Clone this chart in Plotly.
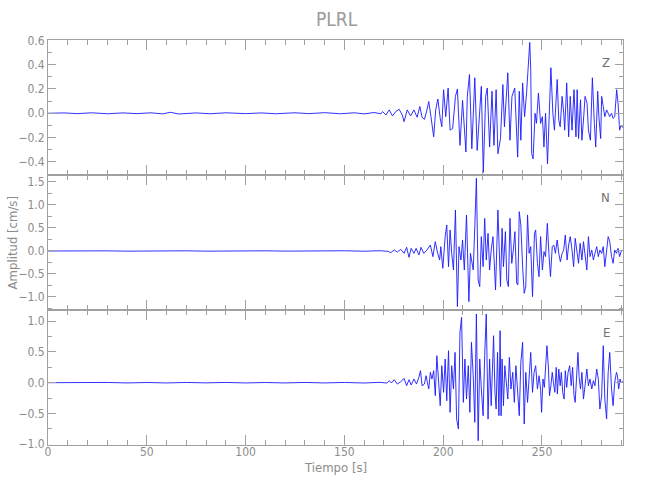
import plotly.graph_objects as go
from plotly.subplots import make_subplots

# ---------------- data ----------------
t_z = [0, 8, 15, 22, 30, 38, 45, 52, 58, 62, 66, 75, 82, 90, 100, 108, 115, 125, 132, 140, 148, 155, 160, 165, 168.5,
       169.3, 171.0, 172.7, 174.3, 176.0, 177.7, 179.3, 180.2, 181.8, 183.5, 185.2, 186.8, 188.2, 189.3, 190.5, 191.8,
       192.7, 193.8, 195.2, 196.2, 197.3, 198.5, 199.3, 200.2, 201.3, 202.5, 203.5, 204.8, 206.2, 207.2, 208.5, 209.8,
       211.5, 212.2, 213.3, 214.5, 216.0, 217.2, 218.2, 219.3, 220.3, 221.5, 222.3, 223.5, 224.7, 225.7, 226.8, 227.7,
       229.0, 230.2, 231.0, 231.8, 232.7, 233.8, 234.8, 236.2, 236.8, 237.7, 238.5, 239.3, 240.2, 241.2, 242.2, 243.0,
       243.8, 244.3, 244.8, 245.5, 246.5, 247.2, 248.2, 249.3, 250.2, 251.0, 251.8, 252.8, 253.8, 254.5, 255.5, 256.3,
       257.7, 258.5, 259.2, 260.2, 261.0, 261.5, 262.5, 263.5, 264.3, 265.2, 266.2, 267.2, 267.8, 268.5, 269.5, 270.2,
       271.0, 271.8, 272.8, 273.5, 274.5, 275.5, 276.5, 277.2, 278.2, 278.8, 279.7, 280.2, 281.0, 281.8, 282.7, 283.5,
       284.3, 285.2, 286.0, 286.8, 287.8, 288.5, 289.3, 290.0, 291.0]
a_z = [0.0, 0.003, -0.003, 0.004, -0.004, 0.003, -0.003, 0.004, -0.005, 0.008, -0.006, 0.003, -0.004, 0.004, -0.003,
       0.003, -0.004, 0.004, -0.003, 0.005, -0.004, 0.004, -0.005, 0.006, -0.004,
       0.014, -0.014, 0.028, -0.022, 0.014, 0.033, -0.014, -0.069, 0.028, -0.022, 0.028, -0.033, 0.056, -0.033, -0.05,
       0.028, 0.097, -0.028, -0.194, 0.028, 0.117, -0.042, -0.111, 0.194, -0.028, 0.208, -0.139, -0.125, 0.139, 0.2,
       -0.264, 0.106, -0.319, 0.139, 0.319, -0.292, 0.292, -0.306, 0.0, 0.222, -0.486, 0.139, 0.208, -0.278, 0.181,
       -0.264, 0.194, -0.333,
       -0.208, 0.236, -0.111, 0.139, 0.333, -0.222, 0.139, 0.208, -0.056, -0.361, 0.181, -0.222, 0.25, -0.028, 0.167,
       0.389, 0.583, 0.361, -0.333, -0.375, 0.0, -0.083, 0.167, -0.083, -0.028, -0.278, 0.0, -0.417, 0.139, 0.375, 0.0,
       -0.139, 0.278, -0.056, -0.111, 0.139, 0.0, -0.139, 0.25, -0.194, 0.139, -0.139, 0.194, -0.194, 0.194, -0.208,
       0.111, -0.222, -0.056, 0.139, 0.083, -0.139, -0.222, 0.292, -0.083, -0.278, 0.181, -0.028, -0.208, 0.139, 0.056,
       -0.028, 0.028, 0.0, -0.028, 0.0, -0.042, -0.028, 0.194, 0.083, -0.139, -0.1, -0.12]

t_n = [0, 10, 20, 30, 40, 50, 60, 70, 80, 90, 100, 110, 120, 130, 140, 150, 160, 168, 172,
       173.5, 175.2, 176.8, 178.5, 180.2, 181.5, 182.7, 183.8, 185.2, 186.3, 187.7, 188.8, 190.2, 191.8, 193.5, 194.8,
       196.0, 197.2, 198.2, 198.8, 199.8, 201.0, 201.8, 202.7, 203.5, 204.3, 205.2, 206.2, 207.2, 208.0, 209.0, 209.8,
       210.7, 211.8, 213.0, 213.8, 215.2, 216.0, 216.8, 217.7, 218.5, 219.3, 220.2, 221.0, 221.8, 222.7, 223.5, 224.3,
       225.2, 226.5, 227.7,
       229.0, 229.8, 230.5, 231.5, 232.2, 233.0, 233.8, 234.7, 235.5, 236.3, 237.2, 237.8, 238.5, 239.3, 240.2, 241.0,
       241.8, 242.7, 243.5, 244.3, 245.2, 246.2, 246.8, 247.7, 248.5, 249.3, 250.2, 251.0, 251.8, 252.7, 253.5, 254.3,
       255.2, 256.0, 256.8, 257.7, 258.5, 259.3, 260.2, 261.0, 261.8, 262.7, 263.5, 264.3, 265.2, 266.0, 266.8, 267.7,
       268.5, 269.3, 270.2, 271.0, 271.8, 272.7, 273.5, 274.3, 275.2, 276.0, 276.8, 277.7, 278.5, 279.3, 280.2, 281.0,
       281.8, 282.7, 283.5, 284.3, 285.2, 286.0, 286.8, 287.7, 288.5, 289.3, 290.0, 291.0]
a_n = [0.0, 0.004, -0.004, 0.003, -0.004, 0.004, -0.003, 0.004, -0.004, 0.003, -0.004, 0.004, -0.003, 0.004, -0.004,
       0.005, -0.005, 0.006, -0.008,
       -0.036, 0.022, -0.022, 0.036, -0.051, 0.08, -0.138, 0.058, -0.051, 0.058, -0.087, 0.08, -0.051, 0.022, 0.13,
       -0.123, 0.203, -0.051, -0.196, 0.094, -0.377, 0.312, 0.565, -0.341, 0.457, -0.051, -0.413, 0.891, -1.21, 0.094,
       -0.196, 0.239, -0.413, 0.783, -1.101, -0.051, -0.413, 0.529, 1.58, -0.63, -0.775, 0.312, -0.341, 0.71, -0.196,
       0.384, -0.413, 0.022, 0.312, -0.848, 0.891,
       -0.775, 0.493, -0.341, 0.42, -0.63, -0.775, 0.71, -0.268, 0.022, 0.42, -0.703, -0.739, 0.855, 0.565, -0.341,
       -0.92, -0.775, 0.783, -0.051, 0.094, -0.993, 0.384, 0.457, -0.268, -0.558, 0.312, -0.413, -0.014, -0.123, 0.601,
       -0.051, -0.558, 0.094, 0.13, -0.051, 0.239, -0.051, -0.232, -0.051, 0.022, 0.348, -0.196, 0.13, 0.312, 0.022,
       -0.341, 0.275, -0.051, -0.268, 0.167, -0.196, 0.203, -0.123, -0.413, 0.312, -0.123, 0.022, -0.196, -0.051,
       0.094, -0.123, 0.022, -0.051, 0.094, -0.341, 0.058, 0.312, 0.203, -0.123, -0.268, 0.022, -0.051, 0.058, -0.123,
       -0.014, 0.02]

t_e = [0, 10, 20, 30, 40, 50, 60, 70, 80, 90, 100, 110, 120, 130, 140, 150, 160, 168, 171.5,
       172.7, 173.8, 175.2, 176.8, 178.5, 180.2, 181.5, 182.7, 183.8, 185.2, 186.5, 187.7, 188.5, 189.3, 190.5, 191.3,
       192.7, 193.5, 194.3, 195.2, 196.0, 196.8, 197.7, 198.5, 199.3, 200.2, 201.0, 201.8, 202.7, 203.5, 204.3, 205.2,
       206.0, 206.8, 207.7, 208.5, 209.3, 210.2, 211.0, 211.8, 212.7, 213.5, 214.3, 215.2, 216.0, 216.8, 217.7, 218.5,
       219.3, 220.2, 221.0, 221.8, 222.7, 223.5, 224.3,
       225.5, 226.2, 226.8, 227.5, 228.2, 228.8, 229.3, 229.8, 230.5, 231.2, 231.8, 232.7, 233.5, 234.3, 235.2, 236.0,
       236.8, 237.7, 238.5, 239.3, 240.2, 241.0, 241.8, 242.7, 243.5, 244.3, 245.2, 246.0, 246.8, 247.7, 248.5, 249.3,
       249.8, 250.5, 251.2, 251.8, 252.5, 253.2, 253.8, 254.5, 255.2, 255.8, 256.5, 257.2, 257.8, 258.5, 259.2, 259.8,
       260.5, 261.2, 261.8, 262.5, 263.2, 264.0, 264.8, 265.5, 266.2, 266.8, 267.7, 268.2, 268.8, 269.5, 270.2, 271.0,
       271.8, 272.7, 273.5, 274.3, 275.2, 276.0, 276.8, 277.7, 278.5, 279.3, 280.2, 281.0, 281.8, 282.7, 283.5, 284.3,
       285.2, 286.0, 286.8, 287.7, 288.2, 288.8, 289.5, 290.0, 291.0]
a_e = [0.0, 0.004, -0.003, 0.004, -0.004, 0.003, -0.004, 0.004, -0.003, 0.004, -0.004, 0.003, -0.004, 0.004, -0.004,
       0.004, -0.005, 0.006, -0.006,
       0.033, -0.005, 0.049, -0.022, 0.016, 0.07, -0.049, 0.049, -0.038, 0.06, -0.022, 0.087, 0.195, -0.049, -0.022,
       0.114, -0.103, 0.168, 0.06, 0.195, -0.211, 0.439, -0.103, -0.374, 0.276, -0.157, 0.385, -0.293, 0.52, -0.482,
       0.276, -0.103, 0.493, -0.591, -0.753, 0.818, 1.062, -0.32, 0.385, -0.266, 0.276, -0.482, 0.656, 0.114, -0.645,
       1.117, -0.943, 0.385, -0.103, -0.537, 0.439, 1.117, -0.591, 0.385, -0.374,
       0.764, -0.157, -0.428, 0.493, -0.537, 0.846, -0.537, 0.385, -0.374, 0.276, 0.06, -0.266, 0.412, -0.103, 0.168,
       -0.32, 0.276, -0.157, -0.537, 0.331, 0.656, -0.672, 0.168, -0.32, 0.114, 0.493, -0.157, 0.168, 0.276, -0.103,
       0.114, -0.103, -0.482, 0.06, -0.076, 0.168, 0.602, 0.276, -0.211, -0.049, 0.168, 0.005, -0.157, 0.249, -0.184,
       0.222, -0.049, 0.168, -0.157, -0.266, 0.195, -0.076, 0.168, 0.276, -0.049, 0.249, -0.211, -0.32, 0.168, 0.493,
       0.087, -0.103, 0.168, -0.266, -0.049, 0.222, -0.049, 0.06, -0.103, 0.033, -0.049, 0.222, 0.06, -0.428, -0.211,
       0.602, -0.266, -0.591, 0.168, 0.493, -0.103, -0.374, 0.005, 0.168, 0.114, -0.103, 0.06, 0.0, 0.02]

components = ["Z", "N", "E"]
traces = [(t_z, a_z), (t_n, a_n), (t_e, a_e)]
y_ranges = [[-0.508, 0.603], [-1.283, 1.652], [-1.013, 1.182]]
y_dticks = [0.2, 0.5, 0.5]
y_minor = [0.1, 0.25, 0.25]
x_range = [0, 291]

title_text = "PLRL"
x_title = "Tiempo [s]"
y_title = "Amplitud [cm/s]"

# ---------------- figure ----------------
GREY = "#a0a0a0"
TXT = "#8c8c8c"
FONT = "Liberation Sans Narrow, DejaVu Sans Condensed, Arial Narrow, sans-serif"

fig = make_subplots(rows=3, cols=1, shared_xaxes=True, vertical_spacing=0)

for i, (tt, aa) in enumerate(traces):
    fig.add_trace(go.Scatter(x=tt, y=aa, mode="lines",
                             line=dict(color="#1a1aff", width=0.9),
                             showlegend=False, hoverinfo="skip"),
                  row=i + 1, col=1)
    fig.update_yaxes(range=y_ranges[i], dtick=y_dticks[i], tick0=0, tickformat=".1f",
                     ticks="inside", ticklen=8, tickcolor=GREY, tickwidth=1,
                     minor=dict(dtick=y_minor[i], ticks="inside", ticklen=4, tickcolor=GREY, tickwidth=1),
                     showline=True, linecolor=GREY, linewidth=1, mirror="allticks",
                     showgrid=False, zeroline=False, automargin=False,
                     tickfont=dict(family=FONT, size=12, color=TXT),
                     row=i + 1, col=1)
    fig.update_xaxes(range=x_range, dtick=50, tick0=0,
                     ticks="inside", ticklen=10, tickcolor=GREY, tickwidth=1,
                     minor=dict(dtick=10, ticks="inside", ticklen=5, tickcolor=GREY, tickwidth=1),
                     showline=True, linecolor=GREY, linewidth=1, mirror="allticks",
                     showgrid=False, zeroline=False, automargin=False,
                     showticklabels=(i == 2), ticklabelstandoff=-4,
                     tickfont=dict(family=FONT, size=12, color=TXT),
                     row=i + 1, col=1)
    yref = "y domain" if i == 0 else f"y{i + 1} domain"
    fig.add_annotation(text=components[i], xref="paper", yref=yref,
                       x=0.980, y=0.905, showarrow=False,
                       font=dict(family=FONT, size=13, color="#707070"))

fig.add_annotation(text=x_title, xref="paper", yref="paper", x=0.5, y=-0.056,
                   xanchor="center", yanchor="middle", showarrow=False,
                   font=dict(family=FONT, size=13, color=TXT))

fig.add_annotation(text=y_title, xref="paper", yref="paper", x=-0.061, y=0.5,
                   xanchor="center", yanchor="middle", textangle=-90, showarrow=False,
                   font=dict(family=FONT, size=13, color=TXT))

fig.add_annotation(text=title_text, xref="paper", yref="paper", x=0.503, y=1.0,
                   yshift=21, xanchor="center", yanchor="middle", showarrow=False,
                   font=dict(family=FONT, size=19, color="#9a9a9a"))

fig.update_layout(
    width=650, height=500,
    margin=dict(l=48, r=27, t=40, b=55, autoexpand=False),
    paper_bgcolor="white", plot_bgcolor="white",
)

fig.write_html("out.html", config={"displayModeBar": False},
               post_script="document.body.style.margin='0px';")
